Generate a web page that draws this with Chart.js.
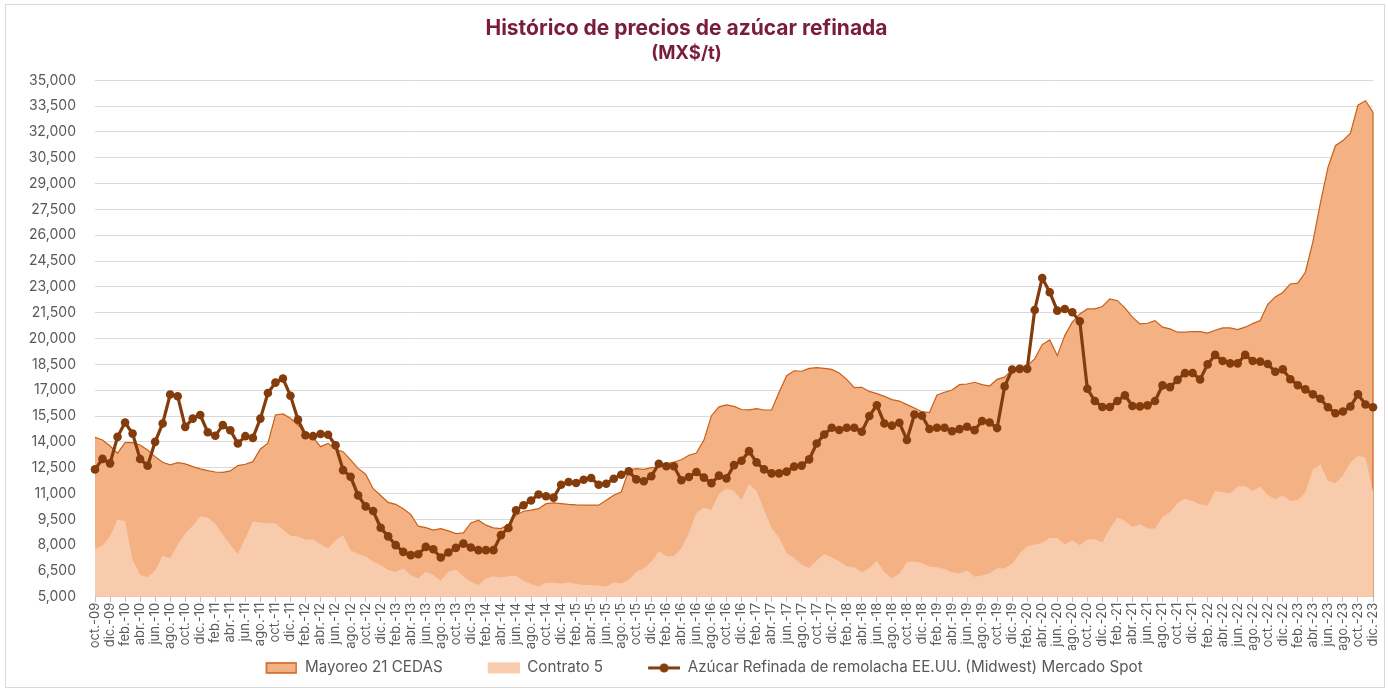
<!DOCTYPE html>
<html lang="es">
<head>
<meta charset="utf-8">
<title>Histórico de precios de azúcar refinada</title>
<script src="https://cdn.jsdelivr.net/npm/chart.js@4.4.1/dist/chart.umd.min.js"></script>
<style>
    html, body { margin: 0; padding: 0; background: #fff; }
</style>
</head>
<body>
<canvas id="preciosChart" width="1388" height="692"></canvas>
<script>
// Categorías: meses de oct-09 a dic-23
const meses = ['ene.', 'feb.', 'mar.', 'abr.', 'may.', 'jun.', 'jul.', 'ago.', 'sep.', 'oct.', 'nov.', 'dic.'];
const categorias = [];
for (let k = 0; k < 171; k++) {
    const m = (9 + k) % 12;
    const anio = 2009 + Math.floor((9 + k) / 12);
    categorias.push(meses[m] + '-' + String(anio).slice(2));
}

// Series (MX$/t)
const mayoreo21 = [
    14260, 14110, 13760, 13340, 13950, 13950, 13820, 13530, 13140, 12810,
    12660, 12790, 12720, 12560, 12430, 12330, 12250, 12230, 12310, 12620,
    12700, 12850, 13590, 13920, 15560, 15620, 15370, 14980, 14550, 14260,
    13720, 13910, 13570, 13430, 12950, 12460, 12120, 11280, 10880, 10480,
    10370, 10120, 9790, 9100, 9020, 8870, 8960, 8830, 8670, 8710,
    9290, 9450, 9160, 9000, 8960, 9210, 9740, 9970, 10030, 10120,
    10410, 10450, 10410, 10370, 10340, 10320, 10320, 10320, 10610, 10900,
    11090, 12350, 12440, 12400, 12500, 12540, 12730, 12830, 12960, 13220,
    13350, 14100, 15520, 16030, 16150, 16060, 15880, 15860, 15930, 15850,
    15850, 16880, 17840, 18130, 18100, 18270, 18310, 18270, 18210, 18000,
    17630, 17150, 17170, 16930, 16800, 16640, 16450, 16370, 16160, 15970,
    15750, 15700, 16720, 16880, 17010, 17320, 17360, 17460, 17320, 17240,
    17630, 17760, 18180, 18340, 18430, 18820, 19650, 19920, 19010, 20170,
    20950, 21430, 21720, 21720, 21860, 22300, 22200, 21780, 21240, 20850,
    20890, 21040, 20660, 20560, 20370, 20370, 20410, 20400, 20320, 20480,
    20620, 20620, 20520, 20660, 20870, 21050, 21990, 22420, 22680, 23170,
    23220, 23850, 25620, 27870, 29930, 31200, 31500, 31930, 33550, 33810,
    33160
];

const contrato5 = [
    7770, 7980, 8500, 9510, 9370, 7150, 6280, 6140, 6530, 7380,
    7240, 8020, 8690, 9120, 9660, 9600, 9240, 8600, 8020, 7480,
    8400, 9370, 9310, 9270, 9270, 8890, 8540, 8500, 8310, 8340,
    8050, 7810, 8280, 8590, 7700, 7480, 7350, 7040, 6850, 6560,
    6450, 6640, 6260, 6060, 6450, 6260, 5930, 6450, 6590, 6200,
    5870, 5680, 6060, 6200, 6120, 6200, 6220, 5930, 5750, 5600,
    5810, 5810, 5770, 5850, 5740, 5680, 5680, 5660, 5580, 5850,
    5770, 5970, 6450, 6640, 7030, 7650, 7360, 7360, 7840, 8710,
    9870, 10180, 10050, 10970, 11290, 11150, 10620, 11550, 11150, 10050,
    8980, 8460, 7530, 7260, 6860, 6680, 7110, 7480, 7300, 7070,
    6780, 6720, 6430, 6680, 7090, 6430, 6080, 6350, 7010, 7050,
    6970, 6740, 6720, 6610, 6430, 6350, 6530, 6160, 6240, 6370,
    6660, 6640, 6930, 7510, 7940, 8040, 8130, 8420, 8420, 8050,
    8290, 8000, 8340, 8330, 8170, 8960, 9600, 9410, 9060, 9210,
    8960, 8960, 9640, 9930, 10450, 10700, 10560, 10370, 10290, 11150,
    11070, 11010, 11400, 11440, 11150, 11400, 10920, 10680, 10880, 10560,
    10620, 11070, 12390, 12680, 11740, 11600, 12050, 12780, 13210, 13070,
    11110
];

const azucarSpot = [
    12400, 13010, 12750, 14290, 15120, 14480, 13000, 12610, 14000, 15070,
    16750, 16650, 14870, 15350, 15560, 14560, 14350, 14970, 14670, 13900,
    14330, 14230, 15350, 16840, 17440, 17680, 16680, 15290, 14380, 14330,
    14460, 14410, 13800, 12360, 11970, 10890, 10250, 9980, 9010, 8510,
    8000, 7610, 7420, 7470, 7900, 7760, 7280, 7570, 7840, 8090,
    7860, 7710, 7710, 7710, 8580, 9000, 10030, 10320, 10590, 10940,
    10840, 10760, 11510, 11670, 11610, 11800, 11900, 11510, 11570, 11860,
    12090, 12290, 11820, 11710, 12000, 12730, 12580, 12580, 11770, 11960,
    12250, 11920, 11600, 12040, 11880, 12650, 12900, 13460, 12810, 12400,
    12170, 12170, 12270, 12560, 12620, 12980, 13900, 14430, 14820, 14690,
    14820, 14820, 14590, 15500, 16130, 15070, 14940, 15110, 14110, 15590,
    15520, 14750, 14820, 14820, 14620, 14740, 14880, 14680, 15210, 15120,
    14800, 17220, 18200, 18240, 18240, 21660, 23520, 22690, 21620, 21720,
    21530, 21000, 17080, 16370, 16020, 16020, 16370, 16700, 16080, 16060,
    16120, 16370, 17280, 17180, 17600, 17990, 18000, 17620, 18500, 19050,
    18700, 18560, 18560, 19050, 18700, 18660, 18520, 18070, 18210, 17640,
    17290, 17050, 16760, 16500, 16010, 15660, 15760, 16050, 16760, 16170,
    16010
];

// Colores
const colorMayoreo = '#F4B183';
const bordeMayoreo = '#C8601A';
const colorContrato = '#F8CBAD';
const colorAzucar = '#843C0C';
const gris = '#595959';

// Símbolos de la leyenda (con hueco transparente a la izquierda para separar entradas)
const huecoLeyenda = 35;
function simbolo(dibujar) {
    const c = document.createElement('canvas');
    c.width = 32 + huecoLeyenda;
    c.height = 14;
    const g = c.getContext('2d');
    g.translate(huecoLeyenda, 0);
    dibujar(g);
    return c;
}
const simbolos = [
    simbolo(g => {
        g.fillStyle = colorMayoreo;
        g.fillRect(1, 2, 30, 10);
        g.strokeStyle = bordeMayoreo;
        g.lineWidth = 1.5;
        g.strokeRect(1, 2, 30, 10);
    }),
    simbolo(g => {
        g.fillStyle = colorContrato;
        g.fillRect(0, 1.5, 32, 11);
    }),
    simbolo(g => {
        g.strokeStyle = colorAzucar;
        g.lineWidth = 3;
        g.beginPath();
        g.moveTo(0, 7);
        g.lineTo(32, 7);
        g.stroke();
        g.fillStyle = colorAzucar;
        g.beginPath();
        g.arc(16, 7, 4.5, 0, Math.PI * 2);
        g.fill();
    })
];

// Marco gris alrededor de la figura
const marco = {
    id: 'marco',
    beforeDraw(chart) {
        const ctx = chart.ctx;
        ctx.save();
        ctx.fillStyle = '#ffffff';
        ctx.fillRect(0, 0, chart.width, chart.height);
        ctx.strokeStyle = '#d9d9d9';
        ctx.lineWidth = 1;
        ctx.strokeRect(5.5, 4.5, 1379, 683);
        ctx.restore();
    }
};

// Borde derecho del área de Mayoreo (como en Excel)
const bordeFinal = {
    id: 'bordeFinal',
    afterDatasetDraw(chart, args) {
        if (args.index !== 0) return;
        const pts = args.meta.data;
        const ultimo = pts[pts.length - 1];
        const ctx = chart.ctx;
        ctx.save();
        ctx.strokeStyle = bordeMayoreo;
        ctx.lineWidth = 1.2;
        ctx.beginPath();
        ctx.moveTo(ultimo.x, ultimo.y);
        ctx.lineTo(ultimo.x, chart.chartArea.bottom);
        ctx.stroke();
        ctx.restore();
    }
};

const ctxPrecios = document.getElementById('preciosChart').getContext('2d');
const preciosChart = new Chart(ctxPrecios, {
    type: 'line',
    data: {
        labels: categorias,
        datasets: [{
            label: 'Mayoreo 21 CEDAS',
            data: mayoreo21,
            order: 3,
            fill: 'start',
            backgroundColor: colorMayoreo,
            borderColor: bordeMayoreo,
            borderWidth: 1.2,
            pointRadius: 0,
            tension: 0
        }, {
            label: 'Contrato 5',
            data: contrato5,
            order: 2,
            fill: 'start',
            backgroundColor: colorContrato,
            borderColor: colorContrato,
            borderWidth: 0,
            pointRadius: 0,
            tension: 0
        }, {
            label: 'Azúcar Refinada de remolacha EE.UU. (Midwest) Mercado Spot',
            data: azucarSpot,
            order: 1,
            fill: false,
            borderColor: colorAzucar,
            backgroundColor: colorAzucar,
            borderWidth: 3.2,
            pointRadius: 4.3,
            pointHoverRadius: 5.5,
            pointBackgroundColor: colorAzucar,
            pointBorderWidth: 0,
            tension: 0
        }]
    },
    options: {
        responsive: false,
        animation: false,
        layout: {
            padding: { left: 0, right: 15, top: 0, bottom: 6.5 }
        },
        scales: {
            x: {
                afterFit: function(s) {
                    s.height = 53.5;
                    s.paddingLeft = 0;
                    s.paddingRight = 0;
                },
                grid: {
                    drawOnChartArea: false,
                    drawTicks: true,
                    tickLength: 5,
                    color: function(c) {
                        return c.index % 2 === 0 ? '#bfbfbf' : 'rgba(0,0,0,0)';
                    }
                },
                border: { display: true, color: '#d9d9d9' },
                ticks: {
                    autoSkip: false,
                    minRotation: 90,
                    maxRotation: 90,
                    padding: 1,
                    color: gris,
                    font: { family: 'Inter', size: 13 },
                    callback: function(value, index) {
                        return index % 2 === 0 ? this.getLabelForValue(value) : '';
                    }
                }
            },
            y: {
                min: 5000,
                max: 35000,
                afterFit: function(s) {
                    s.width = 95;
                },
                grid: {
                    color: '#d9d9d9',
                    drawTicks: false
                },
                border: { display: false },
                ticks: {
                    stepSize: 1500,
                    padding: 19,
                    color: gris,
                    font: { family: 'Inter', size: 14 },
                    callback: function(value) {
                        return value.toLocaleString('en-US');
                    }
                }
            }
        },
        plugins: {
            title: {
                display: true,
                text: 'Histórico de precios de azúcar refinada',
                color: '#7a1c3b',
                font: { family: 'Inter', size: 21, weight: 'bold' },
                padding: { top: 16.4, bottom: 0 }
            },
            subtitle: {
                display: true,
                text: '(MX$/t)',
                color: '#7a1c3b',
                font: { family: 'Inter', size: 18.5, weight: 'bold' },
                padding: { top: 0.6, bottom: 15.9 }
            },
            legend: {
                position: 'bottom',
                labels: {
                    usePointStyle: true,
                    pointStyleWidth: 32 + huecoLeyenda,
                    boxHeight: 11,
                    padding: 10,
                    color: gris,
                    font: { family: 'Inter', size: 15.2 },
                    sort: (a, b) => a.datasetIndex - b.datasetIndex,
                    generateLabels: function(chart) {
                        const items = Chart.defaults.plugins.legend.labels.generateLabels(chart);
                        items.forEach(item => {
                            item.pointStyle = simbolos[item.datasetIndex];
                        });
                        return items;
                    }
                }
            },
            tooltip: {
                callbacks: {
                    label: function(context) {
                        return context.dataset.label + ': ' + context.raw.toLocaleString('en-US');
                    }
                }
            }
        }
    },
    plugins: [marco, bordeFinal]
});
</script>
</body>
</html>
